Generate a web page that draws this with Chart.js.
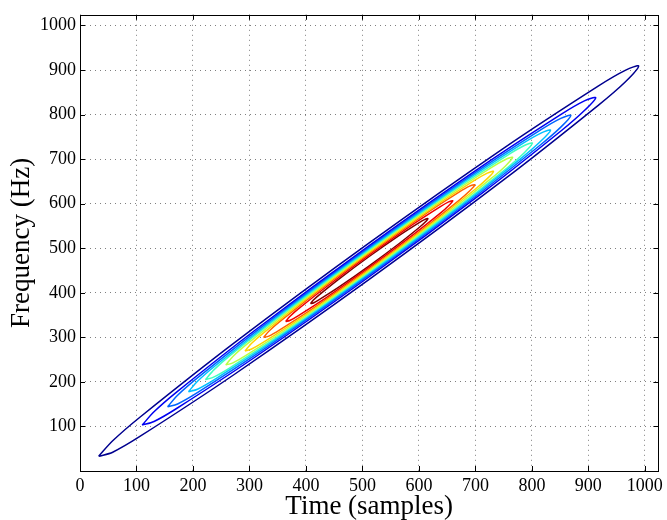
<!DOCTYPE html>
<html>
<head>
<meta charset="utf-8">
<script src="https://cdn.jsdelivr.net/npm/chart.js@4"></script>
<style>
  html, body { margin: 0; padding: 0; background: #fff; }
  #wrap { width: 667px; height: 520px; }
</style>
</head>
<body>
<div id="wrap"><canvas id="chart" width="667" height="520"></canvas></div>
<script>
// contour outlines as [time, frequency] vertices,
// outermost level first; each loop runs lower tip -> lower edge -> upper tip -> upper edge
const level1 = [[33,33],[57.9,42.2],[106,77.5],[273,216.6],[512,430],[751,654.4],[918,821.3],[966.1,874.2],[989,909],[966.1,899.8],[918,864.5],[751,725.4],[512,512],[273,287.6],[106,120.7],[57.9,67.8],[33,33]];
const level2 = [[110,103],[131,111.1],[171,140.3],[311.5,257],[512,436],[712.5,624.4],[853,764.9],[893,809.1],[913,838],[893,830.9],[853,801.7],[712.5,685],[512,506],[311.5,317.6],[171,177.1],[131,132.9],[110,103]];
const level3 = [[155,144],[172.8,150.5],[208.5,176.4],[333.5,280.2],[512,439.5],[690.5,607.2],[815.5,732.4],[851.2,771.9],[869,798],[851.2,791.5],[815.5,765.6],[690.5,661.8],[512,502.5],[333.5,334.8],[208.5,209.6],[172.8,170.1],[155,144]];
const level4 = [[192,178],[208,183.6],[240,206.8],[352,299.7],[512,442.5],[672,592.9],[784,705.2],[816,740.6],[833,765],[816,758.4],[784,735.2],[672,642.3],[512,499.5],[352,349.1],[240,236.8],[208,201.4],[192,178]];
const level5 = [[222,205],[237.4,211.4],[266,232.3],[367.5,316.1],[512,445],[656.5,580.9],[758,682.3],[786.6,714.4],[801,736],[786.6,730.6],[758,709.7],[656.5,625.9],[512,497],[367.5,361.1],[266,259.7],[237.4,227.6],[222,205]];
const level6 = [[258,238],[270.7,242.8],[296,261.1],[385,334.8],[512,448],[639,567.4],[728,656.7],[753.3,684.8],[766,704],[753.3,699.2],[728,680.9],[639,607.2],[512,494],[385,374.6],[296,285.3],[270.7,257.2],[258,238]];
const level7 = [[292,269.5],[303,273.4],[325,289.2],[402,352.9],[512,451],[622,554.5],[699,631.8],[721,656.2],[732,672.5],[721,668.6],[699,652.8],[622,589.1],[512,491],[402,387.5],[325,310.2],[303,285.8],[292,269.5]];
const level8 = [[325,299.7],[334.3,302.7],[353,316.2],[418.5,370.2],[512,453.5],[605.5,541.4],[671,607.4],[689.7,628.3],[699,642.3],[689.7,639.3],[671,625.8],[605.5,571.8],[512,488.5],[418.5,400.6],[353,334.6],[334.3,313.7],[325,299.7]];
const level9 = [[364,335.4],[371.4,337.8],[386,348.4],[438,391.1],[512,457],[586,526.7],[638,578.8],[652.6,595.4],[660,606.6],[652.6,604.2],[638,593.6],[586,550.9],[512,485],[438,415.3],[386,363.2],[371.4,346.6],[364,335.4]];
const level10 = [[408,375.7],[413.2,377.2],[423.5,384.5],[460,414.3],[512,460.5],[564,509.5],[600.5,546.5],[610.8,558.2],[616,566.3],[610.8,564.8],[600.5,557.5],[564,527.7],[512,481.5],[460,432.5],[423.5,395.5],[413.2,383.8],[408,375.7]];

const levels = [level1, level2, level3, level4, level5, level6, level7, level8, level9, level10];
// jet colormap, one colour per level
const levelColors = ['#00008f', '#0000f0', '#0063ff', '#00c0ff', '#40ffbf', '#b8ff47', '#ffd400', '#ff6300', '#f00000', '#800000'];

const xTicks = [0, 100, 200, 300, 400, 500, 600, 700, 800, 900, 1000];
const yTicks = [100, 200, 300, 400, 500, 600, 700, 800, 900, 1000];

const serif = 'Liberation Serif';

// matlab style box with inward ticks on all four sides
const boxTicks = {
    id: 'boxTicks',
    afterDraw(chart) {
        const ctx = chart.ctx;
        const a = chart.chartArea;
        const xs = chart.scales.x, ys = chart.scales.y;
        ctx.save();
        ctx.strokeStyle = '#000';
        ctx.lineWidth = 1;
        ctx.beginPath();
        xTicks.forEach(v => {
            const px = Math.round(xs.getPixelForValue(v)) + 0.5;
            ctx.moveTo(px, a.bottom); ctx.lineTo(px, a.bottom - 5);
            ctx.moveTo(px, a.top); ctx.lineTo(px, a.top + 5);
        });
        yTicks.forEach(v => {
            const py = Math.round(ys.getPixelForValue(v)) + 0.5;
            ctx.moveTo(a.left, py); ctx.lineTo(a.left + 5, py);
            ctx.moveTo(a.right, py); ctx.lineTo(a.right - 5, py);
        });
        ctx.stroke();
        ctx.strokeRect(Math.round(a.left) + 0.5, Math.round(a.top) + 0.5, Math.round(a.right - a.left), Math.round(a.bottom - a.top));
        ctx.restore();
    }
};

const ctx = document.getElementById('chart').getContext('2d');
const myChart = new Chart(ctx, {
    type: 'scatter',
    data: {
        datasets: levels.map((pts, i) => ({
            label: 'level ' + (i + 1),
            data: pts.map(p => ({ x: p[0], y: p[1] })),
            showLine: true,
            borderColor: levelColors[i],
            borderWidth: 1.5,
            pointRadius: 0,
            tension: 0.3,
            fill: false,
        })),
    },
    options: {
        responsive: false,
        animation: false,
        devicePixelRatio: 1,
        layout: { padding: { top: 13, right: 6, left: 0, bottom: 0 } },
        plugins: {
            legend: { display: false },
            tooltip: { enabled: false },
        },
        scales: {
            x: {
                type: 'linear',
                min: 0,
                max: 1024,
                afterBuildTicks: s => { s.ticks = xTicks.map(v => ({ value: v })); },
                afterFit: s => { s.height = 49; },
                ticks: { color: '#000', font: { family: serif, size: 18 }, padding: 4, maxRotation: 0, callback: v => String(v) },
                grid: { color: 'rgba(0,0,0,0.5)', drawTicks: false, lineWidth: 1 },
                border: { display: false, dash: [1, 4] },
                title: { display: true, text: 'Time (samples)', color: '#000', font: { family: serif, size: 27, lineHeight: 1 }, padding: { top: 0, bottom: 0 } },
            },
            y: {
                type: 'linear',
                min: 0,
                max: 1024,
                afterBuildTicks: s => { s.ticks = yTicks.map(v => ({ value: v })); },
                afterFit: s => { s.width = 80; },
                ticks: { color: '#000', font: { family: serif, size: 18 }, padding: 4, callback: v => String(v) },
                grid: { color: 'rgba(0,0,0,0.5)', drawTicks: false, lineWidth: 1 },
                border: { display: false, dash: [1, 4] },
                title: { display: true, text: 'Frequency (Hz)', color: '#000', font: { family: serif, size: 27, lineHeight: 1 }, padding: { top: 8, bottom: 0 } },
            },
        },
    },
    plugins: [boxTicks],
});
</script>
</body>
</html>
